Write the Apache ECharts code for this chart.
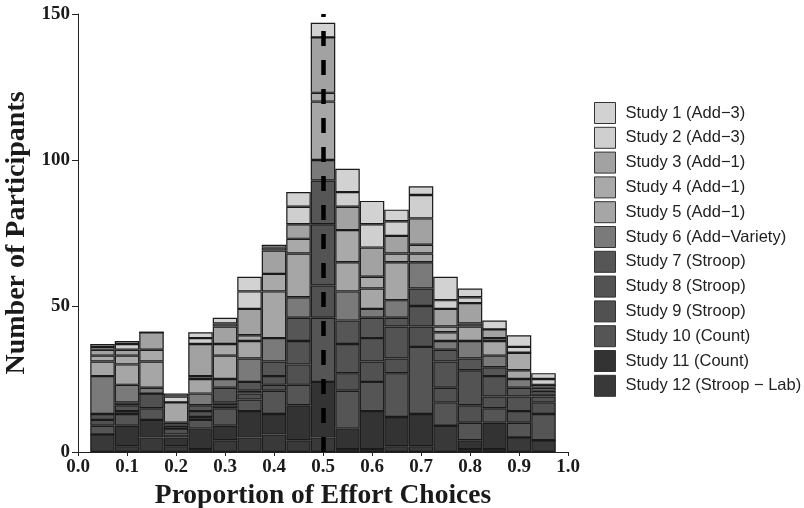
<!DOCTYPE html>
<html lang="en">
<head>
    <meta charset="utf-8">
    <title>Effort choices histogram</title>
    <script src="https://cdn.jsdelivr.net/npm/echarts@6/dist/echarts.min.js"></script>
    <style>
        html, body { margin: 0; padding: 0; background: #fff; }
        #main { width: 804px; height: 508px; }
    </style>
</head>
<body>
    <div id="main"></div>
    <script>
        // bin centres (width 0.05)
        var bins = [0.05, 0.10, 0.15, 0.20, 0.25, 0.30, 0.35, 0.40, 0.45, 0.50,
                    0.55, 0.60, 0.65, 0.70, 0.75, 0.80, 0.85, 0.90, 0.95];
        var binWidth = 0.05;
        var cutoff = 0.5;

        var studyNames = [
            'Study 1 (Add\u22123)', 'Study 2 (Add\u22123)', 'Study 3 (Add\u22121)',
            'Study 4 (Add\u22121)', 'Study 5 (Add\u22121)', 'Study 6 (Add\u2212Variety)',
            'Study 7 (Stroop)', 'Study 8 (Stroop)', 'Study 9 (Stroop)',
            'Study 10 (Count)', 'Study 11 (Count)', 'Study 12 (Stroop \u2212 Lab)'
        ];

        // counts per bin, one array per study
        var study1  = [1, 1, 0, 1, 2, 2, 5, 1, 5, 5, 8, 8, 4, 3, 8, 3, 3, 4, 2];
        var study2  = [1, 2, 0, 2, 2, 1, 6, 1, 6, 0, 5, 8, 5, 8, 3, 2, 0, 2, 2];
        var study3  = [2, 2, 6, 0, 11, 6, 9, 8, 5, 19, 8, 10, 6, 9, 6, 7, 3, 0, 0];
        var study4  = [2, 3, 4, 0, 1, 4, 2, 6, 5, 3, 11, 4, 3, 3, 2, 1, 1, 6, 1];
        var study5  = [5, 7, 9, 7, 5, 8, 6, 16, 15, 20, 10, 7, 13, 3, 3, 5, 5, 3, 1];
        var study6  = [13, 6, 2, 1, 4, 3, 8, 8, 7, 7, 10, 3, 6, 9, 3, 6, 4, 3, 1];
        var study7  = [0, 1, 0, 1, 2, 5, 3, 5, 8, 15, 8, 7, 3, 6, 4, 4, 3, 3, 1];
        var study8  = [2, 2, 0, 0, 2, 1, 1, 3, 8, 21, 10, 8, 11, 7, 9, 12, 7, 5, 2];
        var study9  = [2, 1, 5, 2, 1, 1, 2, 2, 7, 11, 6, 7, 5, 7, 5, 6, 4, 4, 4];
        var study10 = [3, 4, 4, 1, 3, 6, 4, 8, 7, 22, 13, 10, 15, 23, 8, 6, 5, 5, 9];
        var study11 = [0, 7, 6, 3, 7, 5, 9, 7, 12, 19, 7, 13, 10, 11, 0, 3, 9, 0, 0];
        var study12 = [6, 2, 5, 2, 1, 4, 5, 6, 4, 5, 1, 1, 2, 2, 9, 1, 1, 5, 4];

        var studies = [study1, study2, study3, study4, study5, study6,
                       study7, study8, study9, study10, study11, study12];
        var fills = ['#d2d2d2', '#cfcfcf', '#a2a2a2', '#a9a9a9', '#a6a6a6', '#7a7a7a',
                     '#565656', '#535353', '#515151', '#555555', '#333333', '#393939'];

        // plot area; the bars sit in a second grid covering the span of the bins
        var gridLeft = 78, gridRight = 236, gridTop = 14, gridBottom = 56;
        var gridWidth = 804 - gridLeft - gridRight;
        var binLeft = bins[0] - binWidth / 2;
        var binRight = bins[bins.length - 1] + binWidth / 2;

        var series = [];
        // stack from the bottom: study 12 first, study 1 on top
        for (var s = studies.length - 1; s >= 0; s--) {
            series.push({
                name: studyNames[s],
                type: 'bar',
                stack: 'all',
                xAxisIndex: 1,
                yAxisIndex: 1,
                barWidth: '100%',
                itemStyle: { color: fills[s], borderColor: '#1a1a1a', borderWidth: 1.2 },
                emphasis: { disabled: true },
                data: studies[s]
            });
        }
        // dashed line at the indifference point
        series.push({
            type: 'line',
            xAxisIndex: 0,
            yAxisIndex: 0,
            z: 10,
            data: [],
            markLine: {
                silent: true,
                symbol: 'none',
                z: 10,
                label: { show: false },
                lineStyle: { color: '#000', width: 4.5, type: [15, 14] },
                data: [{ xAxis: cutoff }]
            }
        });

        var axisFont = { fontFamily: 'Liberation Serif', fontWeight: 'bold', color: '#1a1a1a' };

        var myChart = echarts.init(document.getElementById('main'));
        myChart.setOption({
            animation: false,
            grid: [
                { left: gridLeft, right: gridRight, top: gridTop, bottom: gridBottom, outerBoundsMode: 'none', containLabel: false },
                {
                    left: gridLeft + gridWidth * binLeft,
                    right: gridRight + gridWidth * (1 - binRight),
                    top: gridTop, bottom: gridBottom,
                    outerBoundsMode: 'none', containLabel: false
                }
            ],
            legend: {
                orient: 'vertical',
                left: 589,
                top: 97,
                itemWidth: 21,
                itemHeight: 21,
                itemGap: 2.8,
                icon: 'rect',
                data: studyNames,
                itemStyle: { borderColor: '#333', borderWidth: 1 },
                textStyle: { fontFamily: 'Liberation Sans', fontSize: 16.5, color: '#222', padding: [0, 0, 0, 5] }
            },
            xAxis: [
                {
                    type: 'value',
                    gridIndex: 0,
                    min: 0,
                    max: 1,
                    interval: 0.1,
                    name: 'Proportion of Effort Choices',
                    nameLocation: 'middle',
                    nameGap: 29,
                    nameTextStyle: Object.assign({ fontSize: 27.5 }, axisFont),
                    axisLine: { onZero: false, lineStyle: { color: '#222', width: 1 } },
                    axisTick: { show: true, length: 4, lineStyle: { color: '#222' } },
                    axisLabel: Object.assign({ fontSize: 19, margin: 6, formatter: function (v) { return v.toFixed(1); } }, axisFont),
                    splitLine: { show: false }
                },
                {
                    type: 'category',
                    gridIndex: 1,
                    data: bins,
                    show: false
                }
            ],
            yAxis: [
                {
                    type: 'value',
                    gridIndex: 0,
                    min: 0,
                    max: 150,
                    interval: 50,
                    name: 'Number of Participants',
                    nameLocation: 'middle',
                    nameGap: 44,
                    nameRotate: 90,
                    nameTextStyle: Object.assign({ fontSize: 28 }, axisFont),
                    axisLine: { show: true, lineStyle: { color: '#222', width: 1 } },
                    axisTick: { show: true, length: 6, lineStyle: { color: '#222' } },
                    axisLabel: Object.assign({ fontSize: 19, margin: 8 }, axisFont),
                    splitLine: { show: false }
                },
                {
                    type: 'value',
                    gridIndex: 1,
                    min: 0,
                    max: 150,
                    show: false
                }
            ],
            series: series
        });
        window.onresize = myChart.resize;
    </script>
</body>
</html>
